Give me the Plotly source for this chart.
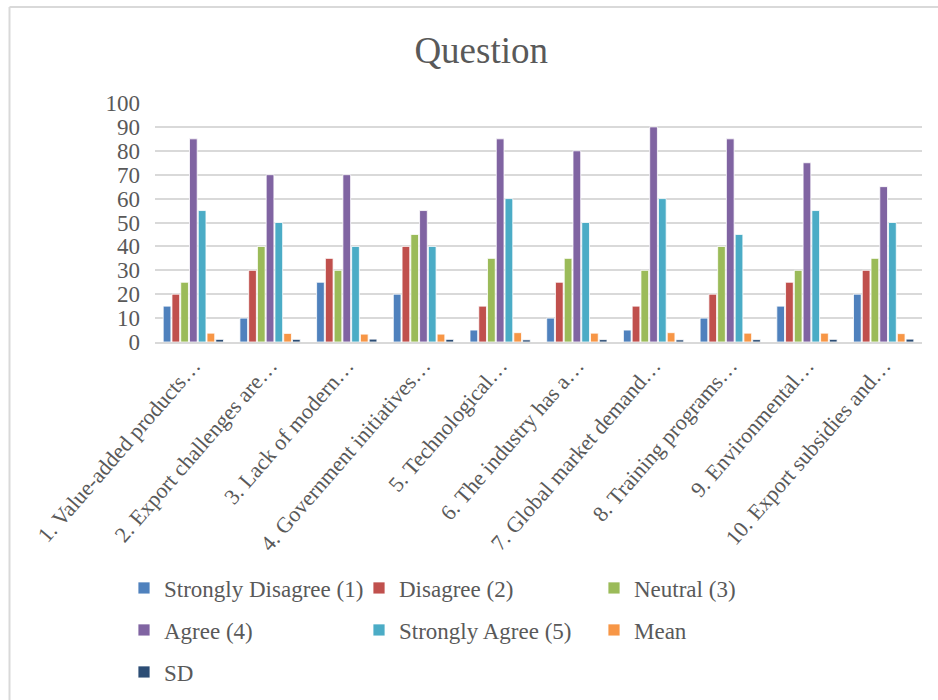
import plotly.graph_objects as go

# Survey statements (truncated as they appear on the axis)
questions = [
    "1. Value-added products…",
    "2. Export challenges are…",
    "3. Lack of modern…",
    "4. Government initiatives…",
    "5. Technological…",
    "6. The industry has a…",
    "7. Global market demand…",
    "8. Training programs…",
    "9. Environmental…",
    "10. Export subsidies and…",
]

strongly_disagree = [15, 10, 25, 20, 5, 10, 5, 10, 15, 20]
disagree = [20, 30, 35, 40, 15, 25, 15, 20, 25, 30]
neutral = [25, 40, 30, 45, 35, 35, 30, 40, 30, 35]
agree = [85, 70, 70, 55, 85, 80, 90, 85, 75, 65]
strongly_agree = [55, 50, 40, 40, 60, 50, 60, 45, 55, 50]
mean = [3.7, 3.6, 3.3, 3.3, 3.9, 3.7, 3.9, 3.7, 3.7, 3.5]
sd = [1.1, 1.1, 1.2, 1.1, 0.9, 1.0, 0.9, 1.0, 1.1, 1.2]

# (name, values, colour, legend row)
series = [
    ("Strongly Disagree (1)", strongly_disagree, "#4F81BD", "legend"),
    ("Disagree (2)", disagree, "#C0504D", "legend"),
    ("Neutral (3)", neutral, "#9BBB59", "legend"),
    ("Agree (4)", agree, "#8064A2", "legend2"),
    ("Strongly Agree (5)", strongly_agree, "#4BACC6", "legend2"),
    ("Mean", mean, "#F79646", "legend2"),
    ("SD", sd, "#2C4D75", "legend3"),
]

FONT = "Liberation Serif, Times New Roman, serif"
GREY = "#595959"
TXT = 23

fig = go.Figure()
for name, vals, color, leg in series:
    fig.add_trace(go.Bar(
        x=questions, y=vals, name=name, legend=leg,
        marker=dict(color=color, line=dict(color="white", width=0.8)),
    ))

W, H = 938, 700
ML, MR, MT, MB = 155, 16, 103, 358
pw, ph = W - ML - MR, H - MT - MB

def px_x(px):
    return (px - ML) / pw

def px_y(py):
    return (H - MB - py) / ph

def legend_row(yc):
    return dict(orientation="h", x=px_x(124), xanchor="left", y=px_y(yc), yanchor="middle",
                font=dict(family=FONT, size=TXT, color=GREY),
                entrywidth=190, entrywidthmode="pixels",
                itemwidth=30, traceorder="normal", bgcolor="rgba(0,0,0,0)")

fig.update_layout(
    width=W, height=H,
    margin=dict(l=ML, r=MR, t=MT, b=MB, autoexpand=False),
    paper_bgcolor="white", plot_bgcolor="white",
    font=dict(family=FONT, color=GREY, size=TXT),
    title=dict(text="Question", x=0.513, xanchor="center", y=1 - 50 / H, yanchor="middle",
               font=dict(family=FONT, size=37, color=GREY)),
    barmode="group", bargap=0.2, bargroupgap=0.12,
    showlegend=True,
    legend=legend_row(588),
    legend2=legend_row(630),
    legend3=legend_row(672),
    xaxis=dict(tickangle=-49, showgrid=False, showline=True, linecolor="#D9D9D9", linewidth=2,
               ticks="", tickfont=dict(family=FONT, size=22, color=GREY)),
    yaxis=dict(range=[0, 100], dtick=10, showgrid=True, gridcolor="#D9D9D9", gridwidth=2,
               zeroline=False, showline=False, ticks="", ticklabelstandoff=14,
               tickfont=dict(family=FONT, size=TXT, color=GREY)),
    shapes=[
        dict(type="line", xref="paper", yref="paper", x0=px_x(9.5), x1=px_x(9.5),
             y0=px_y(7), y1=px_y(705), line=dict(color="#D9D9D9", width=2)),
        dict(type="line", xref="paper", yref="paper", x0=px_x(9.5), x1=px_x(945),
             y0=px_y(7), y1=px_y(7), line=dict(color="#D9D9D9", width=2)),
    ],
)

fig.write_html("out.html")
